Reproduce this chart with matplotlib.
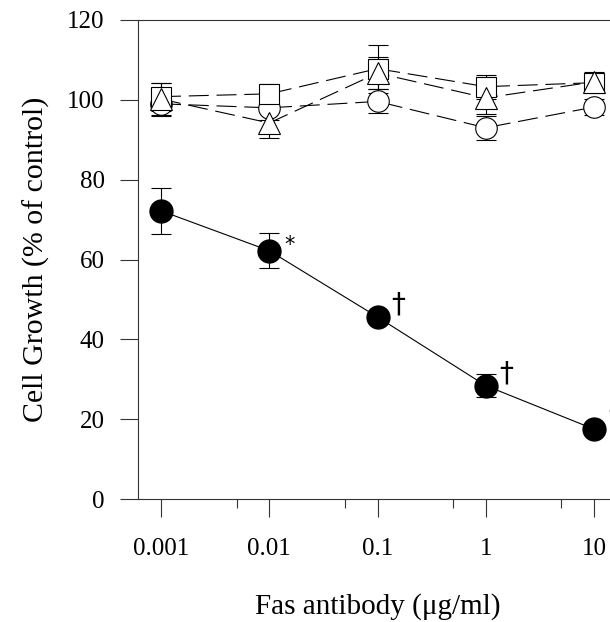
import matplotlib
matplotlib.use("Agg")
import matplotlib.pyplot as plt
import numpy as np

# ---- data ----
dose = [0.001, 0.01, 0.1, 1, 10]
x_tick_labels = ["0.001", "0.01", "0.1", "1", "10"]
y_ticks = [0, 20, 40, 60, 80, 100, 120]

fas_mean = [72.2, 62.2, 45.6, 28.4, 17.5]
fas_err = [5.7, 4.4, 1.5, 2.8, 1.0]

square_mean = [100.8, 101.5, 107.8, 103.3, 104.3]
square_err = [3.5, 2.5, 6.0, 3.0, 2.0]

circle_mean = [99.0, 98.0, 99.6, 93.0, 98.2]
circle_err = [3.0, 3.0, 3.0, 3.0, 2.0]

triangle_mean = [100.2, 94.2, 106.7, 100.5, 104.5]
triangle_err = [4.0, 3.7, 4.0, 4.0, 2.5]

annotations = ["", "*", "\u2020", "\u2020", "\u2020"]

# ---- figure ----
plt.rcParams['font.family'] = ['Liberation Serif', 'DejaVu Serif']
fig = plt.figure(figsize=(6.10, 6.22), dpi=100)
ax = fig.add_axes([138/610, 123/622, 479/610, 479/622])

lw = 0.8
dash = (18, 7)

def open_series(mean, err, marker, ms):
    ax.errorbar(dose, mean, yerr=err, fmt='none', ecolor='black',
                elinewidth=lw, capsize=7, capthick=lw, zorder=2)
    ax.plot(dose, mean, color='black', lw=lw, dashes=dash, zorder=1)
    ax.plot(dose, mean, linestyle='none', marker=marker, ms=ms,
            mfc='white', mec='black', mew=lw, zorder=3)

open_series(circle_mean, circle_err, 'o', 15.5)
open_series(square_mean, square_err, 's', 14.5)
open_series(triangle_mean, triangle_err, '^', 16.5)

ax.errorbar(dose, fas_mean, yerr=fas_err, fmt='none', ecolor='black',
            elinewidth=lw, capsize=7, capthick=lw, zorder=4)
ax.plot(dose, fas_mean, color='black', lw=lw, zorder=4)
ax.plot(dose, fas_mean, linestyle='none', marker='o', ms=16.5,
        mfc='black', mec='black', zorder=5)

for xv, yv, t in zip(dose, fas_mean, annotations):
    if not t:
        continue
    if t == "*":
        ax.annotate(t, (xv, yv), xytext=(11, 4), textcoords='offset points',
                    fontsize=15, ha='left', va='center', family='DejaVu Sans')
    else:
        ax.annotate(t, (xv, yv), xytext=(10, 9), textcoords='offset points',
                    fontsize=20, ha='left', va='center', family='DejaVu Sans')

ax.set_xscale('log')
ax.set_xlim(10**(-3 - 23/108.3), 10**(1 + 23/108.3))
ax.set_ylim(0, 120)

ax.set_xticks(dose)
ax.set_xticklabels(x_tick_labels)
ax.set_xticks([0.005, 0.05, 0.5, 5], minor=True)
ax.set_xticklabels([], minor=True)
ax.set_yticks(y_ticks)

for s in ax.spines.values():
    s.set_linewidth(lw)
    s.set_color('#333333')

ax.tick_params(axis='both', which='major', direction='out', length=13,
               width=lw, labelsize=18, color='#333333')
ax.tick_params(axis='x', which='major', pad=15)
ax.tick_params(axis='y', which='major', pad=11)
ax.tick_params(axis='x', which='minor', direction='out', length=6.5,
               width=lw, color='#333333')

ax.set_ylabel("Cell Growth (% of control)", fontsize=21.5, labelpad=12)
ax.set_xlabel("Fas antibody (\u03bcg/ml)", fontsize=21, labelpad=24)

fig.savefig("out.png", dpi=100)
